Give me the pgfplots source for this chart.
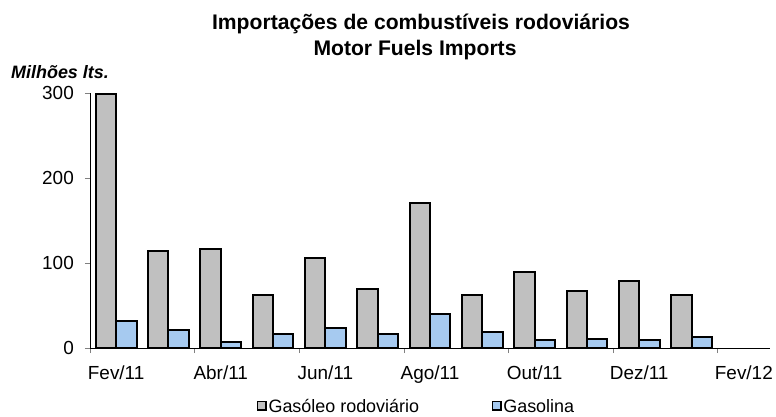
\documentclass[border=0pt]{standalone}
\usepackage{pgfplots}
\pgfplotsset{compat=1.18}
\usepackage{pgfplotstable}
\usepackage{fontspec}
\setmainfont{Liberation Sans}
\definecolor{barGray}{RGB}{192,192,192}
\definecolor{barBlue}{RGB}{166,202,240}
\definecolor{tickGray}{RGB}{128,128,128}

\pgfplotstableread{
x gasoleo gasolina
0.5 299 32
1.5 114 21
2.5 116 7.5
3.5 62 17
4.5 106 23.5
5.5 69 16
6.5 171 39.5
7.5 62 19
8.5 89 9.5
9.5 67 11
10.5 79 9.5
11.5 62 13.5
}\imports

\begin{document}
\begin{tikzpicture}
\begin{axis}[
  width=680bp, height=255bp, scale only axis,
  xmin=0, xmax=13, ymin=0, ymax=300,
  axis x line*=bottom, axis y line*=left,
  axis line style={-, black, line width=0.8bp},
  tick align=outside,
  tick style={tickGray, line width=0.6bp},
  major tick length=5bp,
  xtick={0,2,...,12}, xticklabels={},
  extra x ticks={0.5,2.5,4.5,6.5,8.5,10.5,12.5},
  extra x tick labels={Fev/11,Abr/11,Jun/11,Ago/11,Out/11,Dez/11,Fev/12},
  extra x tick style={major tick length=0pt},
  ytick={0,100,200,300},
  /pgf/number format/assume math mode=true,
  ticklabel style={font=\fontsize{19}{22}\selectfont},
  yticklabel style={inner sep=0pt, xshift=-11bp},
  xticklabel style={inner sep=0pt, yshift=-18bp},
  clip=false,
  legend columns=2,
  legend style={at={(0.479,-0.226)}, anchor=center, draw=none, fill=none,
    font=\fontsize{18}{21}\selectfont, inner sep=0pt,
    nodes={inner sep=0.5bp, text height=14bp, text depth=0bp},
    /tikz/every even column/.append style={column sep=72bp}},
  legend image code/.code={\draw[#1, draw=black, line width=1.5bp] (0bp,-4.6bp) rectangle (8.5bp,3.9bp); \path (9.5bp,0bp);},
]
\addplot[ybar, bar width=0.39, bar shift=-0.195, fill=barGray, draw=black, line width=2bp] table[x=x, y=gasoleo] {\imports};
\addlegendentry{Gasóleo rodoviário}
\addplot[ybar, bar width=0.39, bar shift=0.195, fill=barBlue, draw=black, line width=2bp] table[x=x, y=gasolina] {\imports};
\addlegendentry{Gasolina}
\coordinate (ll) at (rel axis cs:0,0);
\end{axis}
\node[anchor=base, font=\bfseries\fontsize{21.2}{24}\selectfont] at ([shift={(331bp,318bp)}]ll) {Importações de combustíveis rodoviários};
\node[anchor=base, font=\bfseries\fontsize{21.2}{24}\selectfont] at ([shift={(325bp,292bp)}]ll) {Motor Fuels Imports};
\node[anchor=base west, inner sep=0pt, font=\bfseries\itshape\fontsize{18}{21}\selectfont] at ([shift={(-79bp,269bp)}]ll) {Milhões lts.};
\pgfresetboundingbox
\path[use as bounding box] ([shift={(-90bp,-69bp)}]ll) rectangle ([shift={(686bp,348bp)}]ll);
\end{tikzpicture}
\end{document}
